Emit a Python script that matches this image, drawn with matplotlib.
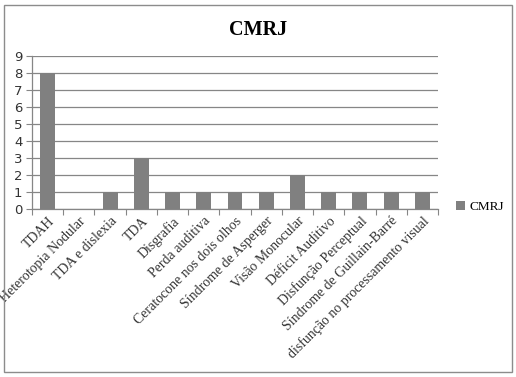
import numpy as np
import matplotlib.pyplot as plt
from matplotlib.patches import Rectangle

categories = [
    "TDAH", "Heterotopia Nodular", "TDA e dislexia", "TDA", "Disgrafia",
    "Perda auditiva", "Ceratocone nos dois olhos", "Síndrome de Asperger",
    "Visão Monocular", "Déficit Auditivo", "Disfunção Perceptual",
    "Síndrome de Guillain-Barré", "disfunção no processamento visual",
]
values = [8, 0, 1, 3, 1, 1, 1, 1, 2, 1, 1, 1, 1]
series_name = "CMRJ"

bar_color = "#808080"
grid_color = "#868686"

fig = plt.figure(figsize=(5.16, 3.77), dpi=100)
fig.patch.set_facecolor("white")
fig.patches.append(Rectangle((4 / 516, 5 / 377), 508 / 516, 367 / 377,
                             transform=fig.transFigure, fill=False,
                             edgecolor="#8c8c8c", linewidth=1.0))

ax = fig.add_axes([32 / 516, 1 - 209 / 377, 406 / 516, 153 / 377])
x = np.arange(len(categories))
ax.bar(x, values, width=0.48, color=bar_color, label=series_name, zorder=3)

ax.set_xlim(-0.5, len(categories) - 0.5)
ax.set_ylim(0, 9)
ax.set_yticks(range(10))
ax.yaxis.grid(True, color=grid_color, linewidth=0.9, zorder=0)
for s in ["top", "right"]:
    ax.spines[s].set_visible(False)
for s in ["left", "bottom"]:
    ax.spines[s].set_color(grid_color)
    ax.spines[s].set_linewidth(0.9)

# ticks sit between categories, labels at category centres
ax.set_xticks(np.arange(len(categories) + 1) - 0.5)
ax.set_xticklabels([])
ax.set_xticks(x, minor=True)
ax.set_xticklabels(categories, minor=True, rotation=45, ha="right",
                   rotation_mode="anchor", family="Liberation Serif",
                   fontsize=10, color="#333333")
ax.tick_params(axis="x", which="minor", length=0, pad=4)
ax.tick_params(axis="x", which="major", length=4, color=grid_color)
ax.tick_params(axis="y", length=4, color=grid_color, labelsize=9.5,
               labelcolor="#333333", pad=3)

fig.text(258 / 516, 1 - 30 / 377, "CMRJ", ha="center", va="center",
         family="Liberation Serif", fontweight="bold", fontsize=14.5)

ax.legend(loc="center left", bbox_to_anchor=(444 / 516, 1 - 207 / 377),
          bbox_transform=fig.transFigure, frameon=False,
          prop={"family": "Liberation Serif", "size": 9.5},
          handlelength=0.7, handleheight=0.7, handletextpad=0.3)

fig.savefig("out.png", dpi=100)
